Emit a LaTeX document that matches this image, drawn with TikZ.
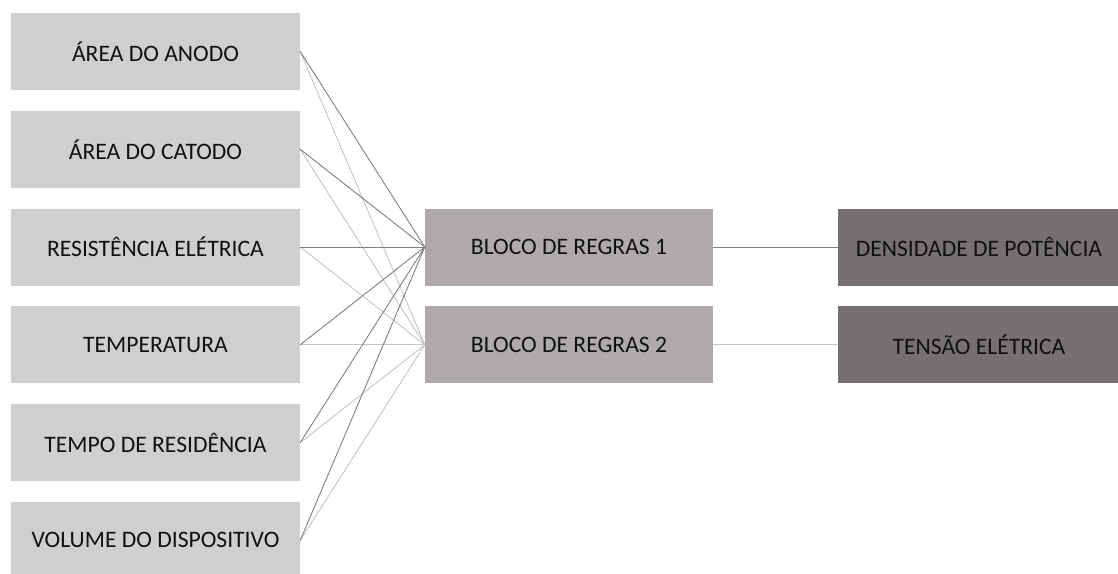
\documentclass[tikz,border=0pt]{standalone}
\usepackage{fontspec}
\setmainfont{Carlito}
\definecolor{boxA}{HTML}{D0CECE}
\definecolor{boxB}{HTML}{AEAAAA}
\definecolor{boxC}{HTML}{767171}
\definecolor{lineDark}{HTML}{7F7F7F}
\definecolor{lineLight}{HTML}{C4C4C4}
\definecolor{txt}{HTML}{111111}
\tikzset{
  basebox/.style={draw=none, minimum height=77pt, inner sep=0pt, text=txt, font=\fontsize{23.6}{26}\selectfont},
  inbox/.style={basebox, fill=boxA, minimum width=289pt},
  rulebox/.style={basebox, fill=boxB, minimum width=288pt},
  outbox/.style={basebox, fill=boxC, minimum width=282pt},
  darkline/.style={draw=lineDark, line width=0.9pt},
  lightline/.style={draw=lineLight, line width=0.9pt},
}
\begin{document}
\begin{tikzpicture}[x=1pt,y=-1pt]
\useasboundingbox (0,0) rectangle (1118,573);
\node[inbox] (i1) at (155.5,51.5) {ÁREA DO ANODO};
\node[inbox] (i2) at (155.5,149.3) {ÁREA DO CATODO};
\node[inbox] (i3) at (155.5,247) {RESISTÊNCIA ELÉTRICA};
\node[inbox] (i4) at (155.5,344.8) {TEMPERATURA};
\node[inbox] (i5) at (155.5,442.6) {TEMPO DE RESIDÊNCIA};
\node[inbox] (i6) at (155.5,540.4) {VOLUME DO DISPOSITIVO};
\node[rulebox] (r1) at (569,247) {BLOCO DE REGRAS 1};
\node[rulebox] (r2) at (569,344.8) {BLOCO DE REGRAS 2};
\node[outbox] (o1) at (979,247) {DENSIDADE DE POTÊNCIA};
\node[outbox] (o2) at (979,344.8) {TENSÃO ELÉTRICA};
\foreach \i in {1,...,6} {
  \draw[lightline] (i\i.east) -- (r2.west);
}
\foreach \i in {1,...,6} {
  \draw[darkline] (i\i.east) -- (r1.west);
}
\draw[darkline] (r1.east) -- (o1.west);
\draw[lightline] (r2.east) -- (o2.west);
\end{tikzpicture}
\end{document}
